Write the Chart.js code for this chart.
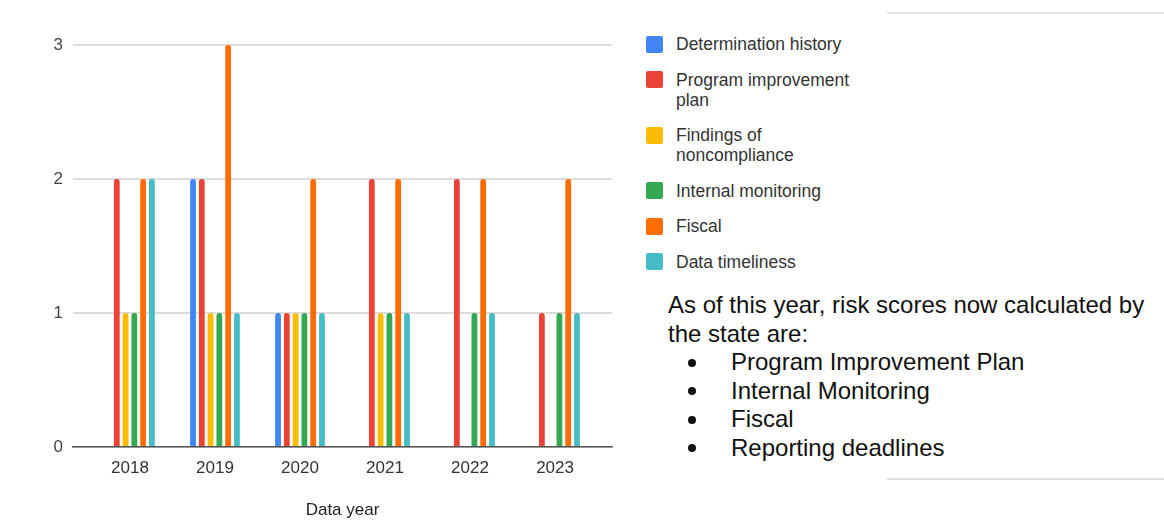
<!DOCTYPE html>
<html>
<head>
<meta charset="utf-8">
<script src="https://cdn.jsdelivr.net/npm/chart.js@4/dist/chart.umd.min.js"></script>
<style>
  html, body { margin: 0; padding: 0; background: #fff; }
  body { width: 1164px; height: 521px; position: relative; overflow: hidden;
         font-family: Arial, "Liberation Sans", sans-serif; }
  #wrap { position: absolute; left: 0; top: 0; width: 640px; height: 521px; }
  #legend { position: absolute; left: 646px; top: 34px; margin: 0; padding: 0;
            list-style: none; display: flex; flex-direction: column; gap: 15.5px; }
  #legend li { display: flex; align-items: flex-start; font-size: 17.5px; line-height: 20px; color: #333; }
  #legend .box { width: 17px; height: 17px; border-radius: 2px; margin-top: 1.5px; margin-right: 13px; flex: none; }
  #legend .txt { max-width: 182px; }
  #note { position: absolute; left: 668px; top: 291px; width: 492px; font-size: 24px;
          line-height: 28.5px; color: #111; }
  #note ul { margin: 0; padding: 0; list-style: none; }
  #note li { position: relative; padding-left: 63px; }
  #note li::before { content: ""; position: absolute; left: 20px; top: 10.5px;
                     width: 8px; height: 8px; border-radius: 50%; background: #111; }
  .rule { position: absolute; left: 887px; width: 277px; height: 2px; background: #e3e3e3; }
</style>
</head>
<body>
<div class="rule" style="top:12px"></div>
<div class="rule" style="top:478px"></div>
<div id="wrap"><canvas id="riskChart"></canvas></div>
<ul id="legend"></ul>
<div id="note">
  As of this year, risk scores now calculated by the state are:
  <ul id="stateList"></ul>
</div>
<script>
// risk score counts per data year
const years = [2018, 2019, 2020, 2021, 2022, 2023];
const seriesNames = [
  "Determination history",
  "Program improvement plan",
  "Findings of noncompliance",
  "Internal monitoring",
  "Fiscal",
  "Data timeliness",
];
const determinationHistory = [0, 2, 1, 0, 0, 0];
const programImprovement   = [2, 2, 1, 2, 2, 1];
const findingsNoncompliance = [1, 1, 1, 1, 0, 0];
const internalMonitoring   = [1, 1, 1, 1, 1, 1];
const fiscal               = [2, 3, 2, 2, 2, 2];
const dataTimeliness       = [2, 1, 1, 1, 1, 1];
const seriesColors = ["#4285f4", "#ea4335", "#fbbc04", "#34a853", "#ff6d01", "#46bdc6"];
const yTicks = [0, 1, 2, 3];
const stateScores = [
  "Program Improvement Plan",
  "Internal Monitoring",
  "Fiscal",
  "Reporting deadlines",
];

const seriesValues = [
  determinationHistory, programImprovement, findingsNoncompliance,
  internalMonitoring, fiscal, dataTimeliness,
];

const datasets = seriesNames.map((name, s) => ({
  label: name,
  data: years.map((yr, i) => ({ x: yr, y: seriesValues[s][i] })),
  backgroundColor: seriesColors[s],
  borderRadius: 3,
  borderSkipped: "start",
  categoryPercentage: 0.62,
  barPercentage: 0.66,
}));

const fontFamily = "Arial, 'Liberation Sans', sans-serif";

new Chart(document.getElementById("riskChart"), {
  type: "bar",
  data: { datasets },
  options: {
    responsive: true,
    maintainAspectRatio: false,
    animation: false,
    layout: { padding: { top: 45, right: 28, bottom: 0, left: 0 } },
    plugins: { legend: { display: false }, tooltip: { enabled: false } },
    scales: {
      x: {
        type: "linear",
        offset: false,
        min: 2017.33,
        max: 2023.67,
        afterBuildTicks: (scale) => { scale.ticks = years.map((v) => ({ value: v })); },
        afterFit: (scale) => { scale.height = 74; },
        grid: { display: false, drawTicks: false, offset: false },
        border: { display: true, color: "#555", width: 1.5 },
        ticks: {
          padding: 11,
          color: "#333",
          font: { family: fontFamily, size: 17 },
          callback: (v) => String(v),
        },
        title: {
          display: true,
          text: "Data year",
          color: "#222",
          padding: { top: 0, bottom: 0 },
          font: { family: fontFamily, size: 17 },
        },
      },
      y: {
        min: 0,
        max: 3,
        afterBuildTicks: (scale) => { scale.ticks = yTicks.map((v) => ({ value: v })); },
        afterFit: (scale) => { scale.width = 73; },
        grid: { color: "#dcdcdc", lineWidth: 2, drawTicks: false },
        border: { display: false },
        ticks: {
          padding: 10,
          color: "#444",
          font: { family: fontFamily, size: 17 },
        },
      },
    },
  },
});

// legend beside the plot
const legendEl = document.getElementById("legend");
seriesNames.forEach((name, s) => {
  const li = document.createElement("li");
  li.innerHTML = `<span class="box" style="background:${seriesColors[s]}"></span><span class="txt">${name}</span>`;
  legendEl.appendChild(li);
});

const listEl = document.getElementById("stateList");
stateScores.forEach((t) => {
  const li = document.createElement("li");
  li.textContent = t;
  listEl.appendChild(li);
});
</script>
</body>
</html>
